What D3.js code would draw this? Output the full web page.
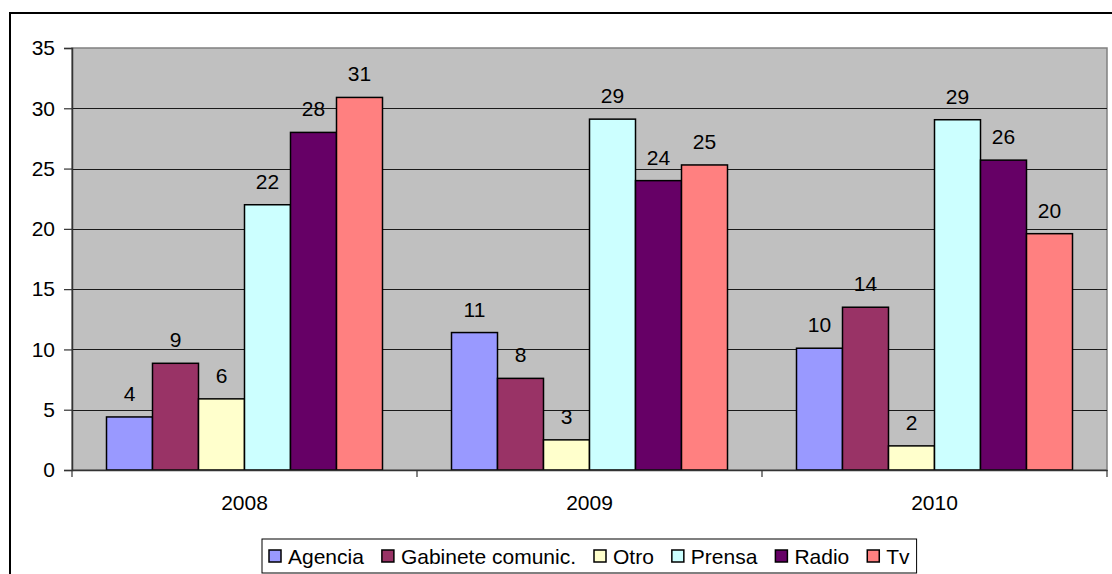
<!DOCTYPE html>
<html><head><meta charset="utf-8">
<script src="https://cdn.jsdelivr.net/npm/d3@7"></script>
<style>body{margin:0;background:#fff}svg{display:block}text{font-family:"Liberation Sans",Arial,sans-serif;fill:#000}</style>
</head><body>
<svg id="c" width="1112" height="574"></svg>
<script>
const years = ["2008","2009","2010"];
const seriesNames = ["Agencia","Gabinete comunic.","Otro","Prensa","Radio","Tv"];
const seriesColors = ["#9999FF","#993366","#FFFFCC","#CCFFFF","#660066","#FF8080"];
const agencia  = [4.4, 11.4, 10.1];
const gabinete = [8.85, 7.6, 13.5];
const otro     = [5.9, 2.5, 2.0];
const prensa   = [22.0, 29.1, 29.05];
const radio    = [28.0, 24.0, 25.7];
const tv       = [30.9, 25.3, 19.6];
const yTicks   = [0,5,10,15,20,25,30,35];

const values = [agencia, gabinete, otro, prensa, radio, tv];
const svg = d3.select("#c");
const L = 72, R = 1107, T = 48, B = 470;
const FS = 21;

// outer chart border
svg.append("rect").attr("x",10).attr("y",13).attr("width",1200).attr("height",700)
  .attr("fill","#fff").attr("stroke","#000").attr("stroke-width",2);

const x0 = d3.scaleBand().domain(years).range([L,R]).paddingInner(0).paddingOuter(0);
const x1 = d3.scaleBand().domain(seriesNames)
  .range([0, x0.bandwidth()]).paddingInner(0).paddingOuter(0.75);
const y = d3.scaleLinear().domain([0,35]).range([B,T]);

// plot area
svg.append("rect").attr("x",L).attr("y",T).attr("width",R-L).attr("height",B-T)
  .attr("fill","#C0C0C0").attr("stroke","#808080").attr("stroke-width",1.5);

// gridlines
svg.append("g").selectAll("line").data(yTicks.filter(d=>d>0 && d<35)).join("line")
  .attr("x1",L).attr("x2",R).attr("y1",d=>Math.round(y(d))+0.5).attr("y2",d=>Math.round(y(d))+0.5)
  .attr("stroke","#1a1a1a").attr("stroke-width",1);

// bars
const bars = [];
years.forEach((yr,i)=>seriesNames.forEach((s,j)=>bars.push({yr,s,j,v:values[j][i]})));
svg.append("g").selectAll("rect").data(bars).join("rect")
  .attr("x",d=>x0(d.yr)+x1(d.s)).attr("width",x1.bandwidth())
  .attr("y",d=>y(d.v)).attr("height",d=>B-y(d.v))
  .attr("fill",d=>seriesColors[d.j]).attr("stroke","#000").attr("stroke-width",1.5);

// data labels
svg.append("g").selectAll("text").data(bars).join("text")
  .attr("x",d=>x0(d.yr)+x1(d.s)+x1.bandwidth()/2).attr("y",d=>y(d.v)-16)
  .attr("text-anchor","middle").attr("font-size",FS)
  .text(d=>Math.round(d.v));

// y axis
const yAxis = d3.axisLeft(y).tickValues(yTicks).tickSize(8).tickPadding(9);
const gy = svg.append("g").attr("transform",`translate(${L},0)`).call(yAxis);
gy.select(".domain").attr("stroke","#333").attr("stroke-width",1.5);
gy.selectAll(".tick line").attr("stroke","#333").attr("stroke-width",1.2);
gy.selectAll(".tick text").attr("font-size",FS).attr("font-family","Liberation Sans, Arial, sans-serif").attr("fill","#000");

// x axis
const xAxis = d3.axisBottom(x0).tickSize(0).tickPadding(25);
const gx = svg.append("g").attr("transform",`translate(0,${B})`).call(xAxis);
gx.select(".domain").attr("stroke","#333").attr("stroke-width",1.5);
gx.selectAll(".tick text").attr("font-size",FS).attr("font-family","Liberation Sans, Arial, sans-serif").attr("fill","#000");
const bounds = years.map(d=>x0(d)).concat([x0(years[years.length-1])+x0.bandwidth()]);
gx.append("g").selectAll("line").data(bounds).join("line")
  .attr("x1",d=>d).attr("x2",d=>d).attr("y1",0).attr("y2",7)
  .attr("stroke","#333").attr("stroke-width",1.2);

// legend
const lg = svg.append("g");
const box = lg.append("rect").attr("fill","#fff").attr("stroke","#000").attr("stroke-width",1);
let cx = 0;
const items = lg.selectAll("g").data(seriesNames).join("g");
items.append("rect").attr("width",12).attr("height",12).attr("y",-14)
  .attr("fill",(d,i)=>seriesColors[i]).attr("stroke","#000").attr("stroke-width",1.5);
items.append("text").attr("x",19).attr("y",0).attr("font-size",FS).text(d=>d);
items.each(function(d){
  const tw = d3.select(this).select("text").node().getComputedTextLength();
  d3.select(this).attr("transform",`translate(${cx},0)`);
  cx += 19 + tw + 18;
});
const lw = cx - 18;
const lx = 269, ly = 564;
lg.attr("transform",`translate(${lx},${ly})`);
box.attr("x",-7).attr("y",-25).attr("width",lw+14).attr("height",34);
</script>
</body></html>
